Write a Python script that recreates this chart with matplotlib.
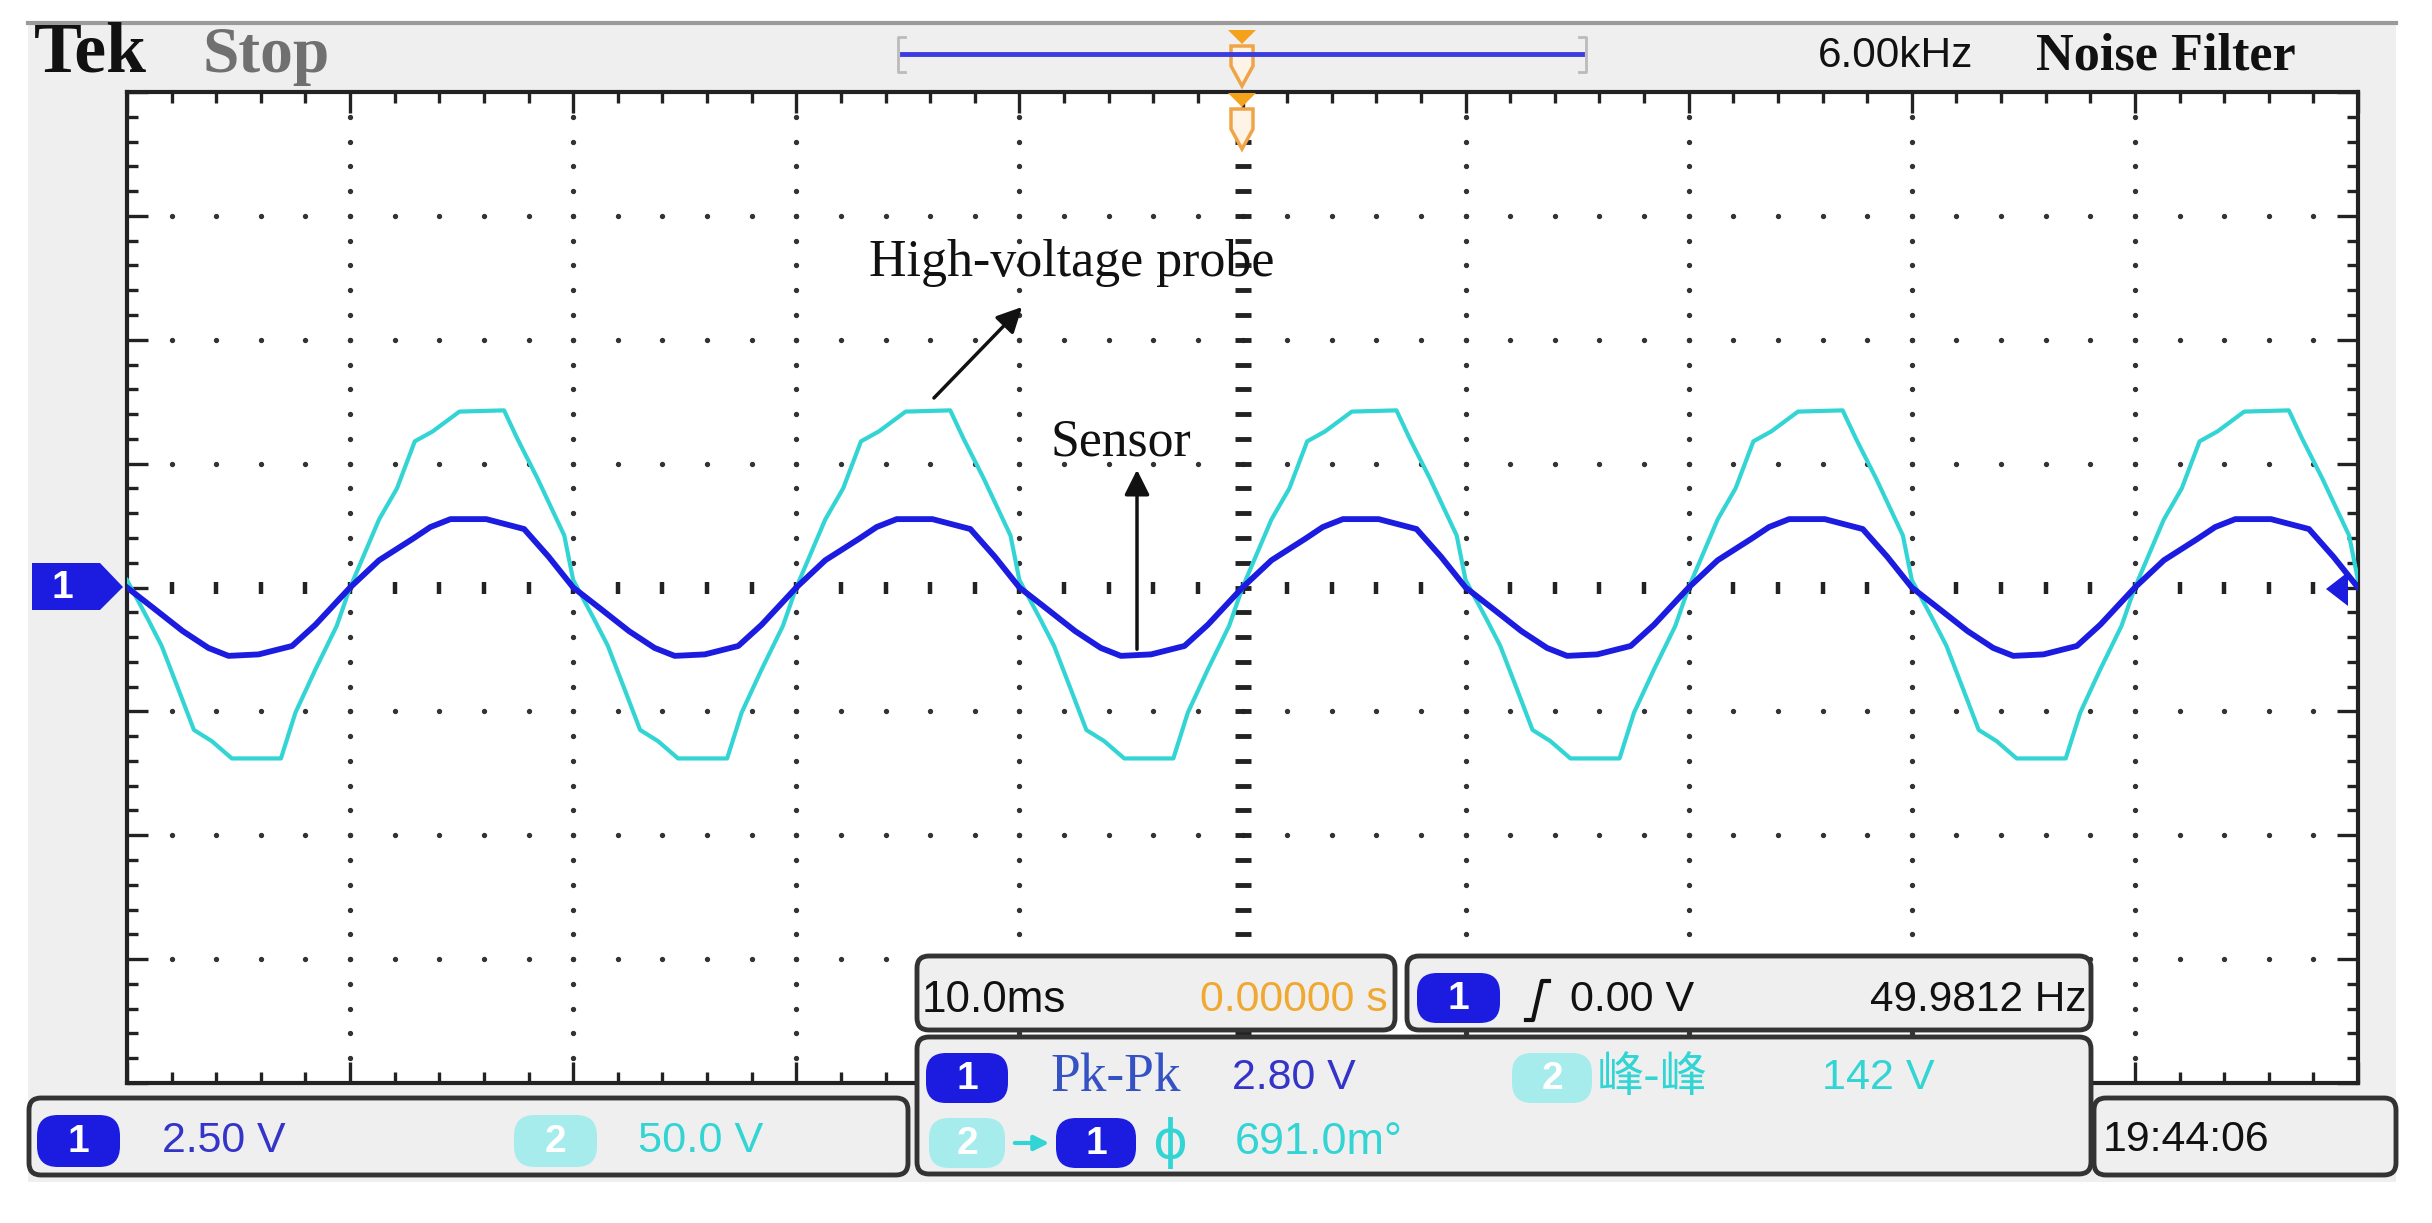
import numpy as np
import matplotlib.pyplot as plt
from matplotlib.patches import FancyBboxPatch, Polygon, Rectangle

W, H = 2432, 1223

# scope settings (from the screen readout)
ch1_v_per_div = 2.5
ch2_v_per_div = 50.0
x_lim_ms = (-50, 50)

# one cycle of each trace; ms from the falling zero crossing
cycle_starts_ms = [-50, -30, -10, 10, 30]
ch1_cycle_ms = [0, 1.2, 2.5, 3.65, 4.55, 5.9, 7.4, 8.45, 10.0,
                11.3, 12.8, 13.6, 14.5, 16.1, 17.8, 18.9]
ch1_cycle_v = [0.0, -0.42, -0.88, -1.22, -1.38, -1.35, -1.18, -0.75, 0.0,
               0.55, 0.98, 1.22, 1.38, 1.38, 1.18, 0.62]
ch2_cycle_ms = [0, 0.95, 1.55, 2.3, 3.0, 3.8, 4.7, 6.9, 7.55, 8.45, 9.4, 10.0,
                11.3, 12.1, 12.9, 13.7, 14.9, 16.9, 17.5, 18.4, 19.6]
ch2_cycle_v = [3, -13, -23.5, -41, -57.5, -62, -69, -69, -50.5, -33, -15.5, 0,
               27.5, 40, 59, 63, 71, 71.5, 60, 44, 21]

# readout texts
ch1_scale_txt = "2.50 V"
ch2_scale_txt = "50.0 V"
timebase_txt = "10.0ms"
delay_txt = "0.00000 s"
trig_level_txt = "0.00 V"
trig_freq_txt = "49.9812 Hz"
meas1_name, meas1_val = "Pk-Pk", "2.80 V"
meas2_name, meas2_val = "峰-峰", "142 V"
phase_val = "691.0m°"
clock_txt = "19:44:06"

BLUE = "#1c1ce0"
BLUE_TXT = "#3434c8"
CYAN = "#33d4d4"
CYAN_BADGE = "#a6ecec"
ORANGE = "#f4a21c"
PANEL = "#efefef"

t1 = np.concatenate([np.array(ch1_cycle_ms) + s for s in cycle_starts_ms] + [[50]])
v1 = np.concatenate([ch1_cycle_v] * len(cycle_starts_ms) + [[0.0]])
t2 = np.concatenate([np.array(ch2_cycle_ms) + s for s in cycle_starts_ms] + [[50]])
v2 = np.concatenate([ch2_cycle_v] * len(cycle_starts_ms) + [[3.0]])

fig = plt.figure(figsize=(W / 100, H / 100), dpi=100)
fig.patch.set_facecolor("white")

# background (pixel coords)
bg = fig.add_axes([0, 0, 1, 1], zorder=0)
bg.set_xlim(0, W)
bg.set_ylim(H, 0)
bg.axis("off")
bg.add_patch(Rectangle((28, 22), 2368, 1160, fc=PANEL, ec="none"))
bg.plot([28, 2396], [23, 23], color="#9a9a9a", lw=3)

# scope screen
L, R, T, B = 127, 2358, 92, 1083
ax = fig.add_axes([L / W, (H - B) / H, (R - L) / W, (B - T) / H], zorder=1)
ax.set_facecolor("white")
ax.set_xlim(*x_lim_ms)
ax.set_ylim(-4, 4)
ax.set_xticks(np.arange(-50, 51, 10))
ax.set_xticks(np.arange(-50, 51, 2), minor=True)
ax.set_yticks(np.arange(-4, 5, 1))
ax.set_yticks(np.arange(-4, 4.01, 0.2), minor=True)
ax.tick_params(which="both", direction="in", top=True, right=True,
               labelbottom=False, labelleft=False, color="#222", width=2.4)
ax.tick_params(which="major", length=15)
ax.tick_params(which="minor", length=8)
for sp in ax.spines.values():
    sp.set_linewidth(3)
    sp.set_color("#222")

gx = np.arange(-48, 48.1, 2)
gy = np.arange(-3.8, 3.81, 0.2)
for yv in [-3, -2, -1, 1, 2, 3]:
    ax.plot(gx, np.full_like(gx, yv), ls="none", marker="o", ms=2.8, color="#333")
for xv in [-40, -30, -20, -10, 10, 20, 30, 40]:
    ax.plot(np.full_like(gy, xv), gy, ls="none", marker="o", ms=2.8, color="#333")
ax.plot(gx, np.zeros_like(gx), ls="none", marker="|", ms=9, mew=3.2, color="#222")
ax.plot(np.zeros_like(gy), gy, ls="none", marker="_", ms=11, mew=3.5, color="#222")

ax.plot(t2, v2 / ch2_v_per_div, color=CYAN, lw=3.0, zorder=3)
ax.plot(t1, v1 / ch1_v_per_div, color=BLUE, lw=4.2, zorder=4)

# overlay (pixel coords)
ov = fig.add_axes([0, 0, 1, 1], zorder=2)
ov.set_xlim(0, W)
ov.set_ylim(H, 0)
ov.axis("off")
ov.patch.set_alpha(0)

renderer = fig.canvas.get_renderer()


def fit_text(x0, x1, yc, s, max_size=None, **kw):
    t = ov.text(x0, yc, s, ha="left", va="center", fontsize=30, **kw)
    bb = t.get_window_extent(renderer)
    size = 30 * (x1 - x0) / bb.width
    if max_size is not None:
        size = min(size, max_size)
    t.set_fontsize(size)
    return t


def panel(x0, y0, x1, y1):
    ov.add_patch(FancyBboxPatch((x0, y0), x1 - x0, y1 - y0,
                                boxstyle="round,pad=0,rounding_size=12",
                                fc=PANEL, ec="#333", lw=3.5))


def badge(x0, x1, yc, h, num, fc):
    ov.add_patch(FancyBboxPatch((x0, yc - h / 2), x1 - x0, h,
                                boxstyle=f"round,pad=0,rounding_size={h * 0.4}",
                                fc=fc, ec="none"))
    ov.text((x0 + x1) / 2, yc + 1, num, color="white", ha="center", va="center",
            fontsize=28, weight="bold", family="Liberation Sans")


# header
fit_text(34, 147, 54, "Tek", family="Liberation Serif", weight="bold", color="#111")
fit_text(202, 329, 56, "Stop", family="Liberation Serif", weight="bold", color="#707070")
fit_text(1818, 1973, 56, "6.00kHz", family="Liberation Sans", color="#111")
fit_text(2036, 2295, 56, "Noise Filter", family="Liberation Serif", weight="bold", color="#111")

ov.plot([902, 1582], [54, 54], color="#3b3be0", lw=3.5)
ov.plot([905, 898, 898, 905], [37, 37, 72, 72], color="#bbbbbb", lw=2)
ov.plot([1579, 1586, 1586, 1579], [37, 37, 72, 72], color="#bbbbbb", lw=2)

cx = 1242
for y0 in (30, 93):
    ov.add_patch(Polygon([(cx - 14, y0), (cx + 14, y0), (cx, y0 + 14)], fc=ORANGE, ec="none"))
    ov.add_patch(Polygon([(cx - 11, y0 + 16), (cx + 11, y0 + 16), (cx + 11, y0 + 36),
                          (cx, y0 + 56), (cx - 11, y0 + 36)],
                         fc="#fdf3e6", ec="#f0a448", lw=2.5))

# channel 1 ground marker
ov.add_patch(Polygon([(32, 563), (100, 563), (123, 587), (100, 610), (32, 610)], fc=BLUE, ec="none"))
ov.text(62, 588, "1", color="white", ha="center", va="center", fontsize=28,
        weight="bold", family="Liberation Sans")
ov.add_patch(Polygon([(2326, 589), (2348, 572), (2348, 606)], fc=BLUE, ec="none"))

# annotations
fit_text(869, 1275, 263, "High-voltage probe", family="Liberation Serif", color="#111")
ov.annotate("", xy=(1024, 305), xytext=(932, 400),
            arrowprops=dict(arrowstyle="-|>", color="#111", lw=2.5, mutation_scale=38))
fit_text(1050, 1191, 442, "Sensor", family="Liberation Serif", color="#111")
ov.annotate("", xy=(1137, 467), xytext=(1137, 652),
            arrowprops=dict(arrowstyle="-|>", color="#111", lw=2.5, mutation_scale=38))

# bottom readouts
panel(29, 1098, 908, 1175)
badge(37, 120, 1141, 52, "1", BLUE)
fit_text(162, 286, 1141, ch1_scale_txt, family="Liberation Sans", color=BLUE_TXT)
badge(514, 597, 1141, 52, "2", CYAN_BADGE)
fit_text(638, 763, 1141, ch2_scale_txt, family="Liberation Sans", color=CYAN)

panel(917, 956, 1395, 1030)
fit_text(922, 1066, 1000, timebase_txt, family="Liberation Sans", color="#111")
fit_text(1200, 1388, 1000, delay_txt, family="Liberation Sans", color="#f0a830")

panel(1407, 956, 2091, 1030)
badge(1417, 1500, 998, 50, "1", BLUE)
ov.plot([1526, 1533, 1542, 1549], [1020, 1020, 981, 981], color="#111", lw=3)
fit_text(1570, 1694, 1000, trig_level_txt, family="Liberation Sans", color="#111")
fit_text(1870, 2086, 1000, trig_freq_txt, family="Liberation Sans", color="#111")

panel(917, 1037, 2091, 1174)
badge(926, 1008, 1078, 50, "1", BLUE)
fit_text(1050, 1181, 1078, meas1_name, family="Liberation Serif", color="#3552c4")
fit_text(1232, 1356, 1078, meas1_val, family="Liberation Sans", color=BLUE_TXT)
badge(1512, 1592, 1078, 50, "2", CYAN_BADGE)
fit_text(1597, 1748, 1078, meas2_name, max_size=34,
         family=["Noto Sans CJK SC", "DejaVu Sans"], color=CYAN)
fit_text(1822, 1935, 1078, meas2_val, family="Liberation Sans", color=CYAN)
badge(929, 1005, 1143, 50, "2", CYAN_BADGE)
ov.annotate("", xy=(1052, 1143), xytext=(1012, 1143),
            arrowprops=dict(arrowstyle="-|>", color=CYAN, lw=3, mutation_scale=22))
badge(1056, 1136, 1143, 50, "1", BLUE)
fit_text(1152, 1187, 1143, "ϕ", family="DejaVu Sans", color=CYAN)
fit_text(1235, 1403, 1143, phase_val, family="Liberation Sans", color=CYAN)

panel(2094, 1098, 2396, 1175)
fit_text(2103, 2270, 1140, clock_txt, family="Liberation Sans", color="#111")

fig.savefig("out.png", dpi=100, facecolor="white")
